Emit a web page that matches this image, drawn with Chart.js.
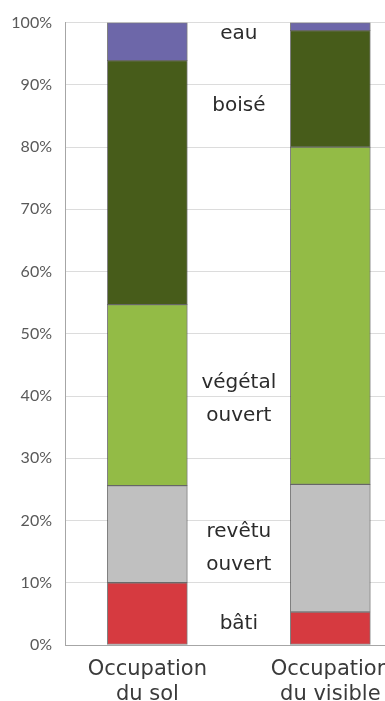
<!DOCTYPE html>
<html lang="fr">
<head>
<meta charset="utf-8">
<title>Occupation du sol et du visible</title>
<script src="https://cdn.jsdelivr.net/npm/chart.js@4/dist/chart.umd.min.js"></script>
<style>
    html, body { margin: 0; padding: 0; background: #fff; }
    #wrap { width: 385px; height: 701px; overflow: hidden; }
</style>
</head>
<body>
<div id="wrap">
    <canvas id="landCoverChart" width="420" height="701"></canvas>
</div>
<script>
// Bars (one per view), segments stacked from the bottom up
const categories = ['Occupation du sol', 'Occupation du visible'];
const classes = ['bâti', 'revêtu ouvert', 'végétal ouvert', 'boisé', 'eau'];
const bati = [10.0, 5.3];
const revetuOuvert = [15.6, 20.5];
const vegetalOuvert = [29.1, 54.2];
const boise = [39.2, 18.7];
const eau = [6.1, 1.3];
const yTicks = [0, 10, 20, 30, 40, 50, 60, 70, 80, 90, 100];

// Class names written between the two bars, level in % of the y axis
const classLabels = [
    { text: ['bâti'], level: 3.4 },
    { text: ['revêtu', 'ouvert'], level: 15.5 },
    { text: ['végétal', 'ouvert'], level: 39.5 },
    { text: ['boisé'], level: 86.6 },
    { text: ['eau'], level: 98.2 }
];

const seriesValues = [bati, revetuOuvert, vegetalOuvert, boise, eau];
const fillColors = ['#d63a40', '#c0c0c0', '#93bb46', '#475c1a', '#6d67a9'];

const datasets = classes.map((name, k) => ({
    label: name,
    data: seriesValues[k].map((v, i) => ({ x: i, y: v })),
    backgroundColor: fillColors[k],
    borderColor: 'rgba(60, 60, 60, 0.65)',
    borderWidth: 1,
    borderSkipped: false,
    barThickness: 80
}));

// Draws the class names in the gap between the bars
const classLabelPlugin = {
    id: 'classLabels',
    afterDatasetsDraw(chart) {
        const { ctx, scales: { x, y } } = chart;
        const cx = x.getPixelForValue(0.5);
        const lineHeight = 33;
        ctx.save();
        ctx.font = '20px "DejaVu Sans"';
        ctx.fillStyle = '#2b2b2b';
        ctx.textAlign = 'center';
        ctx.textBaseline = 'middle';
        classLabels.forEach(item => {
            const cy = y.getPixelForValue(item.level);
            const top = cy - (item.text.length - 1) * lineHeight / 2;
            item.text.forEach((line, n) => ctx.fillText(line, cx, top + n * lineHeight));
        });
        ctx.restore();
    }
};

new Chart(document.getElementById('landCoverChart'), {
    type: 'bar',
    data: { datasets },
    options: {
        responsive: false,
        animation: false,
        layout: { padding: { top: 20, right: 0, bottom: 0, left: 0 } },
        plugins: {
            legend: { display: false },
            tooltip: { enabled: false }
        },
        scales: {
            x: {
                type: 'linear',
                stacked: true,
                offset: false,
                min: -0.45,
                max: 1.49,
                afterBuildTicks: scale => {
                    scale.ticks = categories.map((c, i) => ({ value: i }));
                },
                afterFit: scale => { scale.height = 56; },
                grid: { display: false },
                border: { display: true, color: '#a6a6a6', width: 1 },
                ticks: {
                    autoSkip: false,
                    maxRotation: 0,
                    padding: 4,
                    color: '#3a3a3a',
                    font: { family: 'DejaVu Sans', size: 21, lineHeight: 1.2 },
                    callback: value => {
                        const name = categories[value] || '';
                        const cut = name.indexOf(' ');
                        return cut < 0 ? name : [name.slice(0, cut), name.slice(cut + 1)];
                    }
                }
            },
            y: {
                stacked: true,
                min: 0,
                max: 100,
                afterBuildTicks: scale => {
                    scale.ticks = yTicks.map(v => ({ value: v }));
                },
                afterFit: scale => { scale.width = 65; },
                grid: { color: '#dcdcdc', drawTicks: false },
                border: { display: true, color: '#a6a6a6', width: 1 },
                ticks: {
                    padding: 13,
                    color: '#595959',
                    font: { family: 'Lato', size: 16 },
                    callback: value => value + '%'
                }
            }
        }
    },
    plugins: [classLabelPlugin]
});
</script>
</body>
</html>
